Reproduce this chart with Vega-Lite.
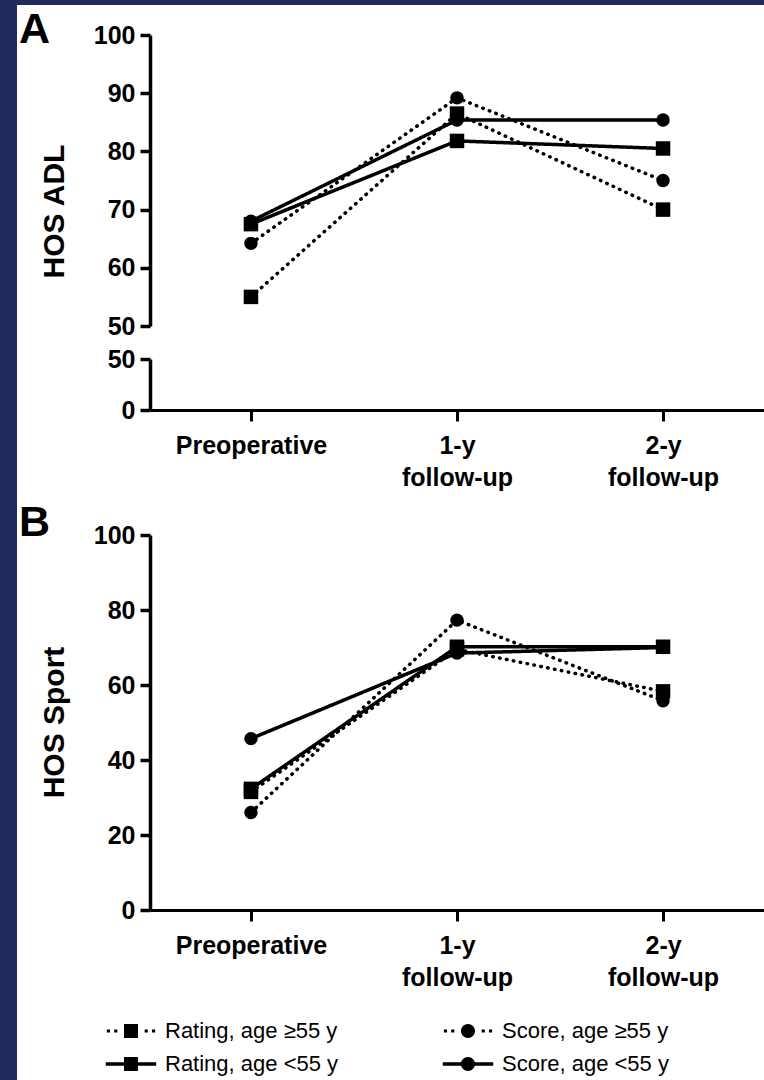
{
  "$schema": "https://vega.github.io/schema/vega-lite/v6.json",
  "padding": 0,
  "background": "white",
  "datasets": {
    "hos": [
      {"panel": "ADL", "time": "Preoperative", "measure": "Rating", "age": "≥55", "series": "Rating, age ≥55 y", "value": 55},
      {"panel": "ADL", "time": "1-y follow-up", "measure": "Rating", "age": "≥55", "series": "Rating, age ≥55 y", "value": 86.5},
      {"panel": "ADL", "time": "2-y follow-up", "measure": "Rating", "age": "≥55", "series": "Rating, age ≥55 y", "value": 70},
      {"panel": "ADL", "time": "Preoperative", "measure": "Score", "age": "≥55", "series": "Score, age ≥55 y", "value": 64.2},
      {"panel": "ADL", "time": "1-y follow-up", "measure": "Score", "age": "≥55", "series": "Score, age ≥55 y", "value": 89.2},
      {"panel": "ADL", "time": "2-y follow-up", "measure": "Score", "age": "≥55", "series": "Score, age ≥55 y", "value": 75},
      {"panel": "ADL", "time": "Preoperative", "measure": "Rating", "age": "<55", "series": "Rating, age <55 y", "value": 67.5},
      {"panel": "ADL", "time": "1-y follow-up", "measure": "Rating", "age": "<55", "series": "Rating, age <55 y", "value": 81.8},
      {"panel": "ADL", "time": "2-y follow-up", "measure": "Rating", "age": "<55", "series": "Rating, age <55 y", "value": 80.5},
      {"panel": "ADL", "time": "Preoperative", "measure": "Score", "age": "<55", "series": "Score, age <55 y", "value": 68},
      {"panel": "ADL", "time": "1-y follow-up", "measure": "Score", "age": "<55", "series": "Score, age <55 y", "value": 85.4},
      {"panel": "ADL", "time": "2-y follow-up", "measure": "Score", "age": "<55", "series": "Score, age <55 y", "value": 85.4},
      {"panel": "Sport", "time": "Preoperative", "measure": "Rating", "age": "≥55", "series": "Rating, age ≥55 y", "value": 31.5},
      {"panel": "Sport", "time": "1-y follow-up", "measure": "Rating", "age": "≥55", "series": "Rating, age ≥55 y", "value": 69.5},
      {"panel": "Sport", "time": "2-y follow-up", "measure": "Rating", "age": "≥55", "series": "Rating, age ≥55 y", "value": 58.3},
      {"panel": "Sport", "time": "Preoperative", "measure": "Score", "age": "≥55", "series": "Score, age ≥55 y", "value": 26},
      {"panel": "Sport", "time": "1-y follow-up", "measure": "Score", "age": "≥55", "series": "Score, age ≥55 y", "value": 77.3},
      {"panel": "Sport", "time": "2-y follow-up", "measure": "Score", "age": "≥55", "series": "Score, age ≥55 y", "value": 55.8},
      {"panel": "Sport", "time": "Preoperative", "measure": "Rating", "age": "<55", "series": "Rating, age <55 y", "value": 32.3},
      {"panel": "Sport", "time": "1-y follow-up", "measure": "Rating", "age": "<55", "series": "Rating, age <55 y", "value": 70.2},
      {"panel": "Sport", "time": "2-y follow-up", "measure": "Rating", "age": "<55", "series": "Rating, age <55 y", "value": 70.2},
      {"panel": "Sport", "time": "Preoperative", "measure": "Score", "age": "<55", "series": "Score, age <55 y", "value": 45.7},
      {"panel": "Sport", "time": "1-y follow-up", "measure": "Score", "age": "<55", "series": "Score, age <55 y", "value": 68.5},
      {"panel": "Sport", "time": "2-y follow-up", "measure": "Score", "age": "<55", "series": "Score, age <55 y", "value": 70}
    ]
  },
  "bounds": "flush",
  "spacing": 0,
  "hconcat": [
    {"width": 17, "height": 1080, "view": {"fill": "#222c5c", "stroke": null}, "data": {"values": []}, "mark": {"type": "point"}},
    {
      "bounds": "flush",
      "spacing": 0,
      "vconcat": [
        {"width": 747, "height": 5, "view": {"fill": "#222c5c", "stroke": null}, "data": {"values": []}, "mark": {"type": "point"}},
        {
          "bounds": "flush",
          "spacing": 0,
          "hconcat": [
            {"width": 133, "height": 10, "data": {"values": []}, "mark": {"type": "point"}},
            {
              "bounds": "flush",
              "spacing": 0,
              "vconcat": [
                {"width": 614, "height": 30, "data": {"values": []}, "mark": {"type": "point"}},
                {
                  "width": 614,
                  "height": 291,
                  "data": {"name": "hos"},
                  "transform": [{"filter": "datum.panel == 'ADL'"}],
                  "title": {"text": "A", "anchor": "start", "frame": "group", "orient": "top", "fontSize": 43, "font": "Liberation Sans", "fontWeight": "bold", "color": "black", "baseline": "alphabetic", "dx": -131, "dy": 19, "offset": -44},
                  "encoding": {
                    "x": {"field": "time", "type": "ordinal", "scale": {"type": "point", "domain": ["Preoperative", "1-y follow-up", "2-y follow-up"], "padding": 0.49}, "axis": null},
                    "y": {"field": "value", "type": "quantitative", "scale": {"domain": [50, 100], "nice": false, "zero": false}, "axis": {"values": [50, 60, 70, 80, 90, 100], "title": "HOS ADL", "titleX": -96, "titleY": 176, "titleBaseline": "middle", "titleAngle": 270}}
                  },
                  "layer": [
                    {"mark": {"type": "line", "strokeWidth": 3.5, "strokeCap": "round", "color": "black"}, "encoding": {"detail": {"field": "series"}, "strokeDash": {"field": "age", "type": "nominal", "scale": {"domain": ["≥55", "<55"], "range": [[0.5, 6.5], [1, 0]]}, "legend": null}}},
                    {"transform": [{"filter": "datum.measure == 'Rating'"}], "mark": {"type": "point", "shape": "square", "filled": true, "size": 210, "color": "black", "opacity": 1}},
                    {"transform": [{"filter": "datum.measure == 'Score'"}], "mark": {"type": "point", "shape": "circle", "filled": true, "size": 180, "color": "black", "opacity": 1}}
                  ]
                },
                {"width": 614, "height": 33, "data": {"values": []}, "mark": {"type": "point"}},
                {
                  "width": 614,
                  "height": 51,
                  "data": {"name": "hos"},
                  "transform": [{"filter": "datum.panel == 'ADL' && datum.value < 50"}],
                  "encoding": {
                    "x": {"field": "time", "type": "ordinal", "scale": {"type": "point", "domain": ["Preoperative", "1-y follow-up", "2-y follow-up"], "padding": 0.49}, "axis": {"title": null, "labelAngle": 0, "labelPadding": 12, "labelLineHeight": 32, "labelExpr": "datum.value == 'Preoperative' ? 'Preoperative' : split(datum.value, ' ')"}},
                    "y": {"field": "value", "type": "quantitative", "scale": {"domain": [0, 50], "nice": false}, "axis": {"values": [0, 50], "title": null}}
                  },
                  "mark": {"type": "point", "filled": true, "color": "black"}
                },
                {"width": 614, "height": 125, "data": {"values": []}, "mark": {"type": "point"}},
                {
                  "width": 614,
                  "height": 375,
                  "data": {"name": "hos"},
                  "transform": [{"filter": "datum.panel == 'Sport'"}],
                  "title": {"text": "B", "anchor": "start", "frame": "group", "orient": "top", "fontSize": 43, "font": "Liberation Sans", "fontWeight": "bold", "color": "black", "baseline": "alphabetic", "dx": -131, "dy": 14, "offset": -42},
                  "encoding": {
                    "x": {"field": "time", "type": "ordinal", "scale": {"type": "point", "domain": ["Preoperative", "1-y follow-up", "2-y follow-up"], "padding": 0.49}, "axis": {"title": null, "labelAngle": 0, "labelPadding": 12, "labelLineHeight": 32, "labelExpr": "datum.value == 'Preoperative' ? 'Preoperative' : split(datum.value, ' ')"}},
                    "y": {"field": "value", "type": "quantitative", "scale": {"domain": [0, 100], "nice": false}, "axis": {"values": [0, 20, 40, 60, 80, 100], "title": "HOS Sport", "titleX": -96, "titleY": 187, "titleBaseline": "middle", "titleAngle": 270}}
                  },
                  "layer": [
                    {"mark": {"type": "line", "strokeWidth": 3.5, "strokeCap": "round", "color": "black"}, "encoding": {"detail": {"field": "series"}, "strokeDash": {"field": "age", "type": "nominal", "scale": {"domain": ["≥55", "<55"], "range": [[0.5, 6.5], [1, 0]]}, "legend": null}}},
                    {"transform": [{"filter": "datum.measure == 'Rating'"}], "mark": {"type": "point", "shape": "square", "filled": true, "size": 210, "color": "black", "opacity": 1}},
                    {"transform": [{"filter": "datum.measure == 'Score'"}], "mark": {"type": "point", "shape": "circle", "filled": true, "size": 180, "color": "black", "opacity": 1}},
                    {
                      "mark": {"type": "point", "filled": true, "size": 196, "color": "black", "opacity": 0},
                      "encoding": {
                        "shape": {
                          "field": "series",
                          "type": "nominal",
                          "scale": {
                            "domain": ["Rating, age ≥55 y", "Rating, age <55 y", "Score, age ≥55 y", "Score, age <55 y"],
                            "range": [
                              "M-1,-1H1V1H-1Z M-3.45,-0.22H-3.0V0.22H-3.45Z M-2.4,-0.22H-1.95V0.22H-2.4Z M1.95,-0.22H2.4V0.22H1.95Z M3.0,-0.22H3.45V0.22H3.0Z",
                              "M-3.6,-0.25H3.6V0.25H-3.6Z M-1,-1H1V1H-1Z",
                              "M-1,0A1,1,0,1,1,1,0A1,1,0,1,1,-1,0Z M-3.45,-0.22H-3.0V0.22H-3.45Z M-2.4,-0.22H-1.95V0.22H-2.4Z M1.95,-0.22H2.4V0.22H1.95Z M3.0,-0.22H3.45V0.22H3.0Z",
                              "M-3.6,-0.25H3.6V0.25H-3.6Z M-1,0A1,1,0,1,1,1,0A1,1,0,1,1,-1,0Z"
                            ]
                          },
                          "legend": {
                            "title": null,
                            "orient": "none",
                            "legendX": 120,
                            "legendY": 1020,
                            "columns": 2,
                            "symbolSize": 196,
                            "symbolFillColor": "black",
                            "symbolStrokeColor": "black",
                            "symbolStrokeWidth": 0,
                            "symbolOpacity": 1,
                            "labelFont": "Liberation Sans",
                            "labelFontSize": 22,
                            "labelColor": "black",
                            "labelOffset": 23,
                            "labelLimit": 0,
                            "columnPadding": 103,
                            "rowPadding": 11
                          }
                        }
                      }
                    }
                  ]
                }
              ]
            }
          ]
        }
      ]
    }
  ],
  "config": {
    "view": {"stroke": null},
    "axis": {
      "domainColor": "black",
      "tickColor": "black",
      "labelColor": "black",
      "titleColor": "black",
      "labelFont": "Liberation Sans",
      "titleFont": "Liberation Sans",
      "labelFontWeight": "bold",
      "titleFontWeight": "bold",
      "labelFontSize": 25,
      "titleFontSize": 30,
      "grid": false
    },
    "axisX": {"domainWidth": 3, "tickWidth": 3, "tickSize": 11},
    "axisY": {"domainWidth": 3.5, "tickWidth": 3.5, "tickSize": 10, "labelPadding": 5}
  }
}
